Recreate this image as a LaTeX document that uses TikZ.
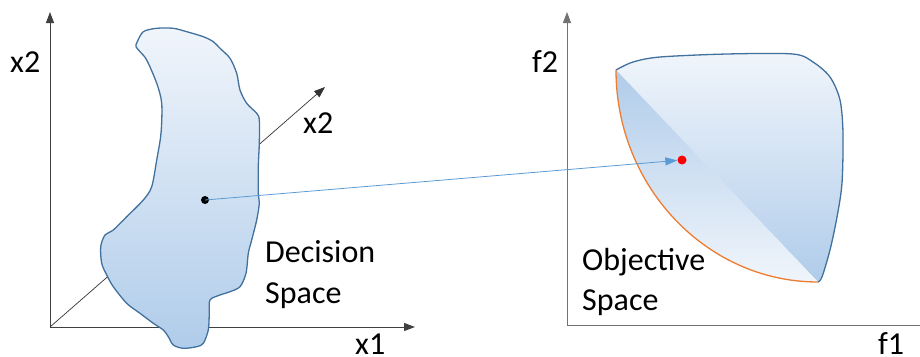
\documentclass[tikz,border=0pt]{standalone}
\usepackage{fontspec}
\setmainfont{Carlito}
\usetikzlibrary{arrows.meta}
\definecolor{blobline}{HTML}{41719C}
\definecolor{blobtop}{HTML}{F0F5FB}
\definecolor{blobbot}{HTML}{B0CCEA}
\definecolor{paretoc}{HTML}{ED7D31}
\definecolor{mapc}{HTML}{5B9BD5}
\tikzset{
  axisline/.style={line width=1pt, draw=black!75, -{Triangle[length=11pt,width=8pt]}},
  axisthin/.style={line width=0.7pt, draw=black!80, -{Triangle[length=11pt,width=8pt]}},
  lab/.style={font=\fontsize{32}{38}\selectfont, inner sep=0pt, anchor=base west},
  dotc/.style={circle, inner sep=0pt, minimum size=#1},
}
\begin{document}
\begin{tikzpicture}[x=1pt,y=-1pt]
\useasboundingbox (0,0) rectangle (920,356);
% left axes
\coordinate (o1) at (50,327);
\coordinate (y1) at (50,12);
\coordinate (x1) at (415,327);
\coordinate (z1) at (325,87);
\draw[axisline] (o1) -- (y1);
\draw[axisline] (o1) -- (x1);
\draw[axisthin] (o1) -- (z1);
% decision blob
\path[draw=blobline, line width=1.3pt, top color=blobtop, bottom color=blobbot]
 plot[smooth cycle, tension=0.5] coordinates {
 (137,42.3) (143.3,31.7) (156.7,28.3) (173.3,28.3) (186.7,31.7) (203.3,36.7)
 (213.3,41.7) (220,48.3) (230,58.3) (236.7,73.3) (240,90) (246.7,103.3)
 (256.7,113.3) (259.3,120) (259.3,143.3) (258.3,166.7) (258.3,193.3)
 (259.3,203.3) (256.7,220) (251.7,240) (248.3,253.3) (246,273.3) (240,286.7)
 (230,291.7) (220,295) (210,300) (209.3,313.3) (208.3,330) (203.3,343.3)
 (196.7,346.7) (183.3,348.3) (173.3,345) (168.3,336.7) (163.3,330)
 (153.3,323.3) (140,313.3) (126.7,303.3) (113.3,286.7) (106.7,275)
 (101.7,263.3) (100.7,246.7) (105,235) (113.3,230) (126.7,216.7)
 (143.3,200) (151.7,186.7) (156.7,160) (161,133.3) (161.7,103.3)
 (156.7,83.3) (146.7,60) (140,51.7) (136,46.7)};
% right axes
\coordinate (o2) at (567,325);
\coordinate (y2) at (567,12);
\coordinate (x2) at (920,325);
\draw[axisline, draw=black!55] (o2) -- (y2);
\draw[line width=1pt, draw=black!55] (o2) -- (x2);
% objective region
\coordinate (A) at (616,70);
\coordinate (B) at (818,282);
\path[top color=blobtop, bottom color=blobbot]
 plot[smooth, tension=0.5] coordinates {(616,70) (633,62) (660,57) (727,54) (793,54) (813,62) (830,77) (840,100) (843,133) (842,183) (837,217) (830,250) (822,277) (818,282)} -- cycle;
\path[top color=blobbot, bottom color=blobtop]
 (A) -- (B) .. controls (707,282) and (616,187) .. (A) -- cycle;
\draw[blobline, line width=1.3pt]
 plot[smooth, tension=0.5] coordinates {(616,70) (633,62) (660,57) (727,54) (793,54) (813,62) (830,77) (840,100) (843,133) (842,183) (837,217) (830,250) (822,277) (818,282)};
\draw[paretoc, line width=1.3pt] (B) .. controls (707,282) and (616,187) .. (A);
% mapping
\node[dotc=8pt, fill=black] (p) at (205,200) {};
\node[dotc=9pt, fill=red] (q) at (682,160) {};
\draw[mapc, line width=0.8pt, -{Triangle[length=12pt,width=8pt]}] (p.center) -- (q);
% labels
\node[lab] (lx2a) at (10,72) {x2};
\node[lab] (lx2b) at (303,133) {x2};
\node[lab] (lx1) at (355,354) {x1};
\node[lab] (ldec) at (265,262) {Decision};
\node[lab] (lsp1) at (265,303) {Space};
\node[lab] (lf2) at (532,72) {f2};
\node[lab] (lf1) at (878,354) {f1};
\node[lab] (lobj) at (582,270) {Objective};
\node[lab] (lsp2) at (582,310) {Space};
\end{tikzpicture}
\end{document}
